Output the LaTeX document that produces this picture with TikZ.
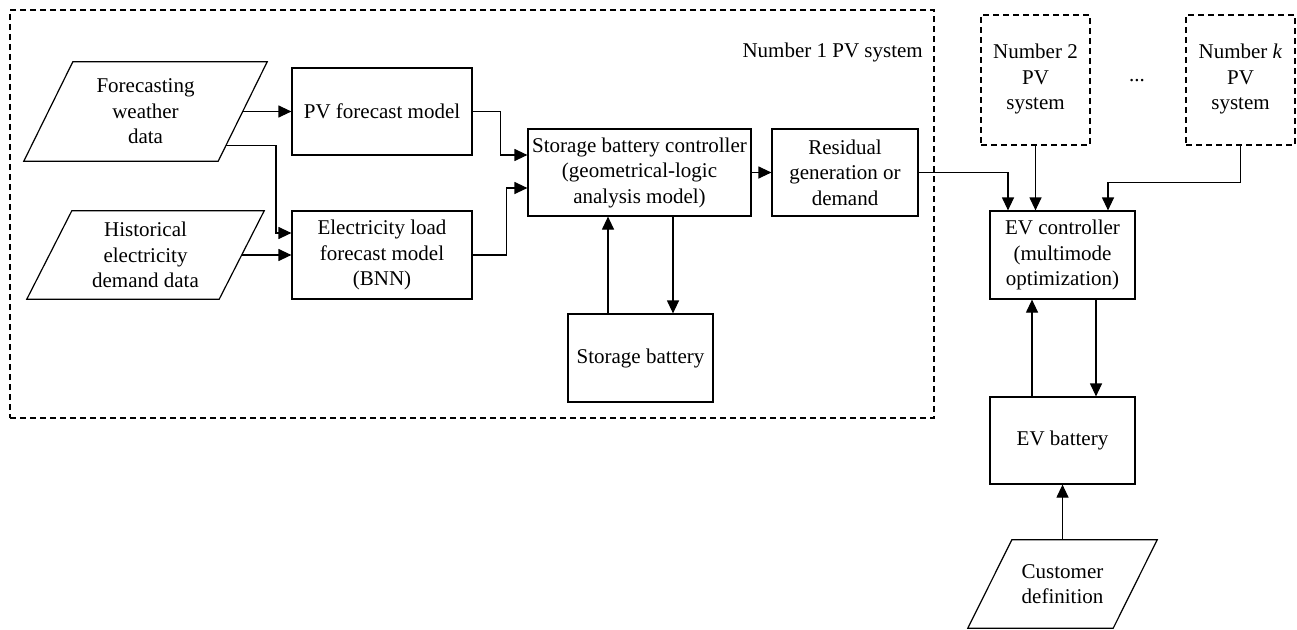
\documentclass[tikz,border=0pt]{standalone}
\usepackage{fontspec}
\setmainfont{Liberation Serif}
\usetikzlibrary{arrows.meta,calc}
\begin{document}
\begin{tikzpicture}[x=1pt,y=-1pt,
  every node/.style={font=\fontsize{21}{25.5}\selectfont, align=center, inner sep=0pt},
  box/.style={draw, line width=1.2pt, minimum width=#1},
  dbox/.style={draw, line width=1.2pt, dash pattern=on 6pt off 4pt},
  para/.style={inner sep=0pt},
  arr/.style={line width=1.2pt, -{Triangle[length=13pt,width=12pt]}},
  line/.style={line width=1.2pt}
]
\useasboundingbox (0,0) rectangle (1297,629);
\fill[white] (0,0) rectangle (1297,629);

% outer dashed system box
\node[dbox, minimum width=924pt, minimum height=408pt] (sys1) at (472,214) {};
\node[anchor=east] (lab1) at (923,52) {Number 1 PV system};

% parallelograms
\node[para, minimum width=243pt, minimum height=99pt] (fw) at (145.5,111.5) {Forecasting\\weather\\data};
\coordinate (fwTL) at ([xshift=49pt]fw.north west);
\coordinate (fwTR) at (fw.north east);
\coordinate (fwBR) at ([xshift=-49pt]fw.south east);
\coordinate (fwBL) at (fw.south west);
\draw[line] (fwTL) -- (fwTR) -- (fwBR) -- (fwBL) -- cycle;

\node[para, minimum width=237pt, minimum height=88pt] (hd) at (145.5,255) {Historical\\electricity\\demand data};
\coordinate (hdTL) at ([xshift=45pt]hd.north west);
\coordinate (hdTR) at (hd.north east);
\coordinate (hdBR) at ([xshift=-45pt]hd.south east);
\coordinate (hdBL) at (hd.south west);
\draw[line] (hdTL) -- (hdTR) -- (hdBR) -- (hdBL) -- cycle;

\node[para, minimum width=189pt, minimum height=88pt] (cd) at (1062.5,584) {Customer\\definition};
\coordinate (cdTL) at ([xshift=44pt]cd.north west);
\coordinate (cdTR) at (cd.north east);
\coordinate (cdBR) at ([xshift=-44pt]cd.south east);
\coordinate (cdBL) at (cd.south west);
\draw[line] (cdTL) -- (cdTR) -- (cdBR) -- (cdBL) -- cycle;

% boxes
\node[box=180pt, minimum height=87pt] (pv) at (382,111.5) {PV forecast model};
\node[box=180pt, minimum height=88pt] (el) at (382,255) {Electricity load\\forecast model\\(BNN)};
\node[box=223pt, minimum height=87pt] (sbc) at (639.5,172.5) {Storage battery controller\\(geometrical-logic\\analysis model)};
\node[box=146pt, minimum height=87pt] (res) at (845,172.5) {Residual\\generation or\\demand};
\node[box=145pt, minimum height=88pt] (sb) at (640.5,358) {Storage battery};
\node[dbox, minimum width=109pt, minimum height=130pt] (n2) at (1035.5,80) {};
\node (n2t) at (1035.5,79) {Number 2\\PV\\system};
\node[dbox, minimum width=109pt, minimum height=130pt] (nk) at (1240.5,80) {};
\node (nkt) at (1240.5,79) {Number \textit{k}\\PV\\system};
\node (dots) at (1137,81) {...};
\node[box=145pt, minimum height=88pt] (evc) at (1062.5,255) {EV controller\\(multimode\\optimization)};
\node[box=145pt, minimum height=87pt] (evb) at (1062.5,440.5) {EV battery};

% connectors
\coordinate (fwA) at ($(fwTR)!0.5!(fwBR)$);
\coordinate (fwB) at ($(fwTR)!0.84!(fwBR)$);
\coordinate (hdA) at ($(hdTR)!0.5!(hdBR)$);
\draw[arr] (fwA) -- (fwA -| pv.west);
\draw[arr] (fwB) -- ++(50,0) |- ([yshift=22pt]el.west);
\draw[arr] (hdA) -- (hdA -| el.west);
\draw[arr] (pv.east) -- ++(28,0) |- ([yshift=17.5pt]sbc.west);
\draw[arr] (el.east) -- ++(34,0) |- ([yshift=-15.5pt]sbc.west);
\draw[arr] (sbc.east) -- (res.west);
\coordinate (sbL) at ([xshift=-32.5pt]sb.north);
\coordinate (sbR) at ([xshift=32.5pt]sb.north);
\draw[arr] (sbL) -- (sbL |- sbc.south);
\draw[arr] (sbR |- sbc.south) -- (sbR);
\draw[arr] (res.east) -| ([xshift=-54.5pt]evc.north);
\draw[arr] (n2.south) -- (n2.south |- evc.north);
\draw[arr] (nk.south) -- ++(0,37) -| ([xshift=45.5pt]evc.north);
\coordinate (evbL) at ([xshift=-30.5pt]evb.north);
\coordinate (evbR) at ([xshift=33.5pt]evb.north);
\draw[arr] (evbL) -- (evbL |- evc.south);
\draw[arr] (evbR |- evc.south) -- (evbR);
\draw[arr] (cd.north) -- (evb.south);
\end{tikzpicture}
\end{document}
